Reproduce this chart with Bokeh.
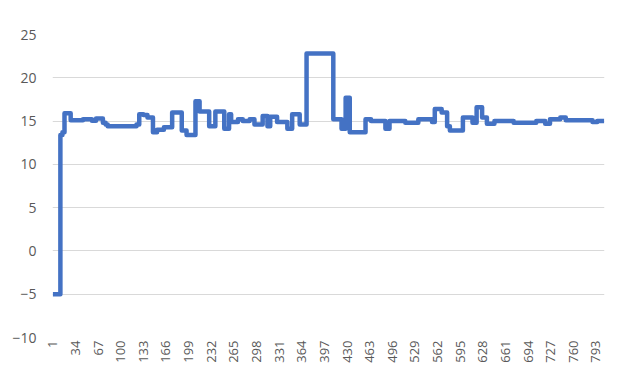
import math
from bokeh.plotting import figure
from bokeh.models import FixedTicker, Range1d
from bokeh.embed import file_html
from bokeh.resources import INLINE

# Category index where each level starts, and the level
step_start = [1, 12, 15, 18, 27, 45, 58, 64, 74, 78, 81, 123, 127, 133, 139, 147,
              153, 163, 175, 189, 196, 209, 215, 229, 238, 251, 258, 261, 271,
              278, 288, 295, 307, 314, 318, 328, 343, 350, 361, 371, 410, 422,
              428, 434, 457, 465, 486, 492, 515, 534, 554, 558, 568, 576, 580,
              599, 613, 619, 627, 634, 645, 673, 706, 719, 726, 741, 749, 788, 795]
step_level = [-5, 13.4, 13.7, 15.9, 15.1, 15.2, 15.05, 15.3, 14.8, 14.6, 14.4,
              14.6, 15.8, 15.7, 15.4, 13.7, 14.0, 14.3, 16.0, 13.9, 13.4, 17.3,
              16.1, 14.4, 16.1, 14.1, 15.8, 14.9, 15.2, 15.0, 15.2, 14.6, 15.6,
              14.4, 15.5, 14.9, 14.1, 15.8, 14.6, 22.8, 15.2, 14.1, 17.7, 13.7,
              15.2, 15.0, 14.1, 15.0, 14.8, 15.2, 14.9, 16.4, 16.0, 14.4, 13.9,
              15.4, 14.8, 16.6, 15.4, 14.7, 15.0, 14.8, 15.0, 14.7, 15.2, 15.4,
              15.1, 14.9, 15.0]
last_category = 805

x_ticks = [1, 34, 67, 100, 133, 166, 199, 232, 265, 298, 331, 364, 397, 430,
           463, 496, 529, 562, 595, 628, 661, 694, 727, 760, 793]
y_ticks = [-10, -5, 0, 5, 10, 15, 20, 25]

xs = step_start + [last_category]
ys = step_level + [step_level[-1]]

p = figure(width=605, height=365, output_backend="svg", toolbar_location=None,
           x_range=Range1d(0.5, last_category + 0.5), y_range=Range1d(-10, 25),
           min_border_left=52, min_border_right=1, min_border_top=34,
           min_border_bottom=27)
p.outline_line_color = None
p.background_fill_color = "white"
p.border_fill_color = "white"

p.step(xs, ys, mode="after", line_width=4.5, line_color="#4472C4",
       line_join="round")

p.xaxis.ticker = FixedTicker(ticks=x_ticks)
p.yaxis.ticker = FixedTicker(ticks=y_ticks)
p.xaxis.major_label_orientation = math.pi / 2
for ax in (p.xaxis, p.yaxis):
    ax.axis_line_color = None
    ax.major_tick_line_color = None
    ax.minor_tick_line_color = None
    ax.major_tick_out = 0
    ax.major_tick_in = 0
    ax.minor_tick_out = 0
    ax.minor_tick_in = 0
    ax.major_label_text_color = "#595959"
    ax.major_label_text_font = "Open Sans"
p.yaxis.major_label_text_font_size = "14px"
p.xaxis.major_label_text_font_size = "13px"
p.xaxis.major_label_standoff = 3
p.yaxis.major_label_standoff = 16

p.xgrid.visible = False
p.ygrid.grid_line_color = "#D9D9D9"
p.ygrid.grid_line_width = 1

open("out.html", "w").write(file_html(p, INLINE))
